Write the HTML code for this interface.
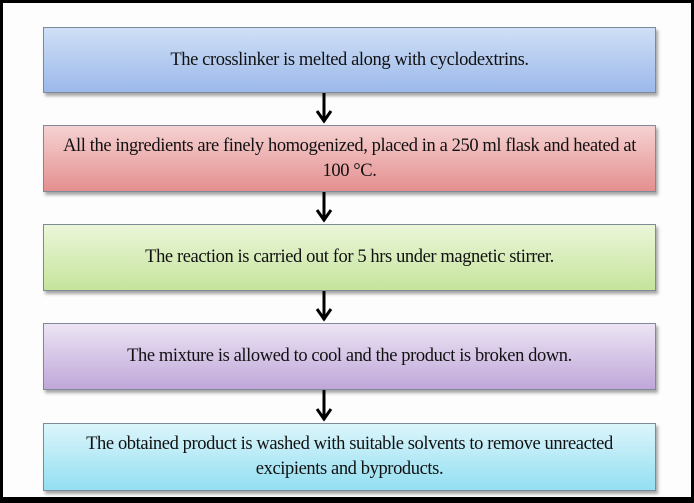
<!DOCTYPE html>
<html><head><style>
html,body{margin:0;padding:0;}
body{width:694px;height:503px;position:relative;background:#fff;overflow:hidden;font-family:"Liberation Serif",serif;}
.frame{position:absolute;left:0;top:0;width:688px;height:494px;border:3px solid #000;border-bottom-width:6px;background:#fdfdfd;}
.box{position:absolute;left:43px;width:611px;border:1px solid #7f8a99;box-shadow:2px 3px 3px rgba(0,0,0,.35);display:flex;align-items:center;justify-content:center;text-align:center;font-size:18.5px;line-height:25px;color:#111;letter-spacing:-0.4px;}
.b1{top:27px;height:64px;background:linear-gradient(#cfdff6,#9cb9ea);}
.b2{top:125px;height:65px;background:linear-gradient(#f6d2d2,#e48f8f);}
.b3{top:224px;height:65px;background:linear-gradient(#ebf6d9,#c6e49c);}
.b4{top:323px;height:65px;background:linear-gradient(#ece4f4,#bfa7d9);}
.b5{top:423px;height:66px;background:linear-gradient(#dcf5fb,#93dff1);}
svg{position:absolute;left:0;top:0;}
</style></head><body>
<div class="frame"></div>
<svg width="694" height="503">
<g stroke="#000" stroke-width="3" fill="none">
<line x1="324" y1="93" x2="324" y2="122"/><polyline points="317,111 324,121 331,111"/>
<line x1="324" y1="192" x2="324" y2="221"/><polyline points="317,210 324,220 331,210"/>
<line x1="324" y1="291" x2="324" y2="320"/><polyline points="317,309 324,319 331,309"/>
<line x1="324" y1="390" x2="324" y2="420"/><polyline points="317,409 324,419 331,409"/>
</g></svg>
<div class="box b1">The crosslinker is melted along with cyclodextrins.</div>
<div class="box b2">All the ingredients are finely homogenized, placed in a 250 ml flask and heated at<br>100 °C.</div>
<div class="box b3">The reaction is carried out for 5 hrs under magnetic stirrer.</div>
<div class="box b4">The mixture is allowed to cool and the product is broken down.</div>
<div class="box b5">The obtained product is washed with suitable solvents to remove unreacted<br>excipients and byproducts.</div>
</body></html>
